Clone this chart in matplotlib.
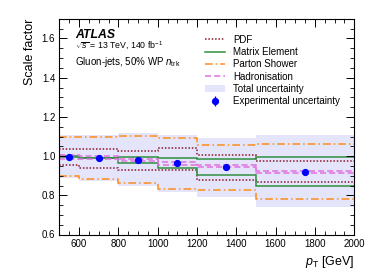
import matplotlib
matplotlib.use("Agg")
import matplotlib.pyplot as plt
from matplotlib.ticker import MultipleLocator

plt.rcParams['font.family'] = ['Liberation Sans', 'DejaVu Sans']
plt.rcParams['mathtext.fontset'] = 'custom'
plt.rcParams['mathtext.rm'] = 'Liberation Sans'
plt.rcParams['mathtext.it'] = 'Liberation Sans:italic'
plt.rcParams['mathtext.bf'] = 'Liberation Sans:bold'

# bins in pT [GeV]
edges = [500, 600, 800, 1000, 1200, 1500, 2000]
centres = [550, 700, 900, 1100, 1350, 1750]

# scale factors and uncertainty envelopes
sf = [0.997, 0.990, 0.980, 0.963, 0.942, 0.920]
sf_err = [0.006, 0.006, 0.006, 0.006, 0.006, 0.006]
total_up = [1.108, 1.108, 1.118, 1.108, 1.090, 1.108]
total_dn = [0.890, 0.873, 0.850, 0.815, 0.790, 0.740]
pdf_up = [1.036, 1.036, 1.025, 1.039, 1.005, 0.976]
pdf_dn = [0.955, 0.937, 0.928, 0.928, 0.880, 0.868]
me_up = [1.001, 0.992, 0.996, 0.988, 0.986, 0.997]
me_dn = [0.996, 0.988, 0.966, 0.937, 0.903, 0.849]
ps_up = [1.096, 1.099, 1.105, 1.094, 1.058, 1.063]
ps_dn = [0.900, 0.882, 0.862, 0.832, 0.827, 0.782]
had_up = [1.007, 0.998, 0.986, 0.971, 0.954, 0.925]
had_dn = [0.984, 0.983, 0.974, 0.954, 0.942, 0.915]

c_pdf = "#8b1a2b"
c_me = "#2f8f3f"
c_ps = "#ff8c1a"
c_had = "#e070e0"
c_band = "#e4e4fb"

fig = plt.figure(figsize=(3.74, 2.8), dpi=100)
ax = fig.add_axes([0.159, 0.1625, 0.788, 0.77])

ax.stairs(total_up, edges, baseline=total_dn, fill=True, color=c_band, lw=0,
          label="Total uncertainty")
for up, dn, c, ls, lab in [
        (pdf_up, pdf_dn, c_pdf, (0, (1, 1.2)), "PDF"),
        (me_up, me_dn, c_me, "-", "Matrix Element"),
        (ps_up, ps_dn, c_ps, (0, (5, 2, 1, 2)), "Parton Shower"),
        (had_up, had_dn, c_had, (0, (4, 2)), "Hadronisation")]:
    ax.stairs(up, edges, baseline=None, color=c, ls=ls, lw=1.1, label=lab)
    ax.stairs(dn, edges, baseline=None, color=c, ls=ls, lw=1.1)

ax.errorbar(centres, sf, yerr=sf_err, fmt="o", color="#0000ff", ms=4.2,
            elinewidth=1, capsize=0, label="Experimental uncertainty", zorder=5)

ax.set_xlim(500, 2000)
ax.set_ylim(0.6, 1.7)
ax.xaxis.set_major_locator(MultipleLocator(200))
ax.xaxis.set_minor_locator(MultipleLocator(50))
ax.yaxis.set_major_locator(MultipleLocator(0.2))
ax.yaxis.set_minor_locator(MultipleLocator(0.05))
ax.tick_params(which="both", direction="in", top=True, right=True, labelsize=7)
ax.tick_params(which="major", length=6, width=0.7, pad=3)
ax.tick_params(which="minor", length=3, width=0.6)
for s in ax.spines.values():
    s.set_linewidth(0.8)

ax.set_ylabel("Scale factor", loc="top", fontsize=9)
ax.set_xlabel(r"$p_{\mathrm{T}}$ [GeV]", loc="right", fontsize=9)

ax.text(0.053, 0.925, "ATLAS", transform=ax.transAxes, fontsize=8.8,
        fontweight="bold", fontstyle="italic", va="center")
ax.text(0.053, 0.873, r"$\sqrt{s}$ = 13 TeV, 140 fb$^{-1}$", transform=ax.transAxes,
        fontsize=6.3, va="center")
ax.text(0.053, 0.80, r"Gluon-jets, 50% WP $n_{\mathrm{trk}}$", transform=ax.transAxes,
        fontsize=7, va="center")

h, l = ax.get_legend_handles_labels()
order = ["PDF", "Matrix Element", "Parton Shower", "Hadronisation",
         "Total uncertainty", "Experimental uncertainty"]
hl = {lab: hh for hh, lab in zip(h, l)}
ax.legend([hl[o] for o in order], order, loc="upper left",
          bbox_to_anchor=(0.481, 0.945), frameon=False, fontsize=7,
          handlelength=2.06, handletextpad=0.82, labelspacing=0.24,
          borderaxespad=0)

fig.savefig("out.png", dpi=100)
